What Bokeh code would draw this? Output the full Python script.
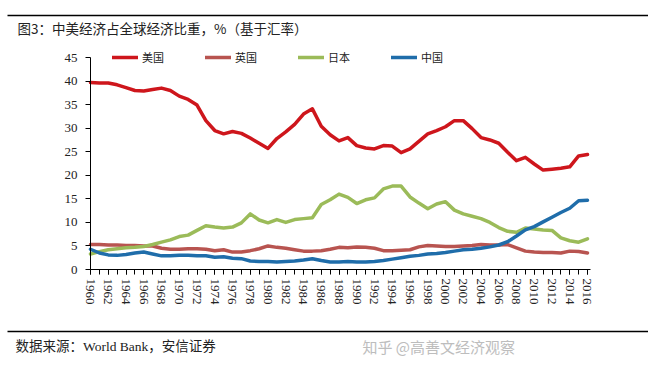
from bokeh.plotting import figure
from bokeh.models import (Label, Span, FixedTicker, Legend, LegendItem,
                          Range1d, ColumnDataSource)
from bokeh.embed import file_html
from bokeh.resources import INLINE

years = list(range(1960, 2017))

us = [39.7, 39.6, 39.6, 39.2, 38.6, 38.0, 37.9, 38.2, 38.5, 38.0,
      36.8, 36.1, 34.9, 31.6, 29.5, 28.8, 29.3, 28.9, 27.9, 26.8,
      25.7, 27.8, 29.2, 30.8, 33.0, 34.1, 30.4, 28.6, 27.3, 28.0,
      26.3, 25.8, 25.6, 26.3, 26.2, 24.8, 25.6, 27.2, 28.8, 29.5,
      30.3, 31.6, 31.6, 29.9, 28.0, 27.5, 26.8, 24.9, 23.1, 23.8,
      22.4, 21.1, 21.3, 21.5, 21.8, 24.1, 24.4]
uk = [5.3, 5.3, 5.2, 5.2, 5.1, 5.1, 5.0, 5.0, 4.5, 4.3,
      4.3, 4.4, 4.4, 4.3, 4.0, 4.2, 3.7, 3.7, 4.0, 4.4,
      5.0, 4.7, 4.5, 4.2, 3.9, 3.9, 4.0, 4.3, 4.7, 4.6,
      4.8, 4.7, 4.5, 4.0, 4.0, 4.1, 4.2, 4.8, 5.1, 5.0,
      4.9, 4.9, 5.0, 5.1, 5.3, 5.2, 5.2, 5.3, 4.6, 3.9,
      3.7, 3.6, 3.6, 3.5, 3.9, 3.8, 3.5]
japan = [3.3, 3.8, 4.2, 4.4, 4.6, 4.7, 4.9, 5.3, 5.8, 6.3,
         7.0, 7.3, 8.3, 9.3, 9.0, 8.8, 9.0, 9.9, 11.8, 10.5,
         9.9, 10.6, 10.0, 10.6, 10.8, 11.0, 13.8, 14.8, 16.0, 15.3,
         14.0, 14.8, 15.2, 17.1, 17.7, 17.7, 15.4, 14.1, 12.9, 13.9,
         14.4, 12.6, 11.8, 11.3, 10.8, 10.0, 8.9, 8.1, 7.9, 8.8,
         8.6, 8.4, 8.3, 6.7, 6.1, 5.8, 6.5]
china = [4.3, 3.5, 3.1, 3.0, 3.2, 3.5, 3.7, 3.3, 2.9, 2.9,
         3.0, 3.0, 2.9, 2.9, 2.6, 2.7, 2.4, 2.3, 1.8, 1.7,
         1.7, 1.6, 1.7, 1.8, 2.0, 2.3, 1.9, 1.6, 1.6, 1.7,
         1.6, 1.6, 1.7, 1.9, 2.2, 2.5, 2.8, 3.0, 3.3, 3.4,
         3.6, 3.9, 4.2, 4.3, 4.5, 4.8, 5.2, 5.9, 7.1, 8.4,
         9.1, 10.1, 11.1, 12.1, 13.0, 14.6, 14.7]

series_names = ["美国", "英国", "日本", "中国"]
series_colors = ["#CE161C", "#B85450", "#9BBB59", "#1F6DAA"]
y_ticks = [0, 5, 10, 15, 20, 25, 30, 35, 40, 45]
x_label_ticks = list(range(1960, 2017, 2))

title_text = "图3：中美经济占全球经济比重，%（基于汇率）"
source_text = "数据来源：World Bank，安信证券"
watermark_text = "知乎 @高善文经济观察"

W, H = 648, 370
cjk = "Noto Sans CJK SC"

# plot box in page pixels: x 1960 -> 90, 2016 -> 587 ; y 0 -> 269, 45 -> 57
px_per_year = (587 - 90) / 56
px_per_unit = (269 - 57) / 45
x0 = 1960 - 90 / px_per_year
x1 = 1960 + (W - 90) / px_per_year
y1 = 269 / px_per_unit
y0 = -(H - 269) / px_per_unit

src = ColumnDataSource(dict(year=years, us=us, uk=uk, japan=japan, china=china))

p = figure(width=W, height=H, output_backend="svg", toolbar_location=None,
           x_range=Range1d(x0, x1), y_range=Range1d(y0, y1), min_border=0)
p.title.visible = False
p.outline_line_color = None
p.xgrid.visible = False
p.ygrid.visible = False
p.background_fill_color = "white"
p.border_fill_color = "white"

renderers = []
for key, c in zip(["us", "uk", "japan", "china"], series_colors):
    r = p.line("year", key, source=src, line_color=c, line_width=3.5,
               line_join="round", line_cap="round")
    renderers.append(r)

serif = "Liberation Serif"
for ax in (p.xaxis[0], p.yaxis[0]):
    ax.axis_line_color = "black"
    ax.axis_line_width = 1
    ax.major_tick_line_color = "black"
    ax.minor_tick_line_color = "black"
    ax.major_tick_in = 0
    ax.major_tick_out = 5
    ax.minor_tick_in = 0
    ax.minor_tick_out = 5
    ax.major_label_text_font = serif
    ax.major_label_text_font_size = "13px"
    ax.major_label_text_color = "#222222"

p.xaxis[0].ticker = FixedTicker(ticks=x_label_ticks, minor_ticks=years)
p.xaxis[0].major_label_orientation = -1.5708
p.xaxis[0].major_label_standoff = 4
p.xaxis[0].fixed_location = 0
p.xaxis[0].bounds = (1960, 2016.3)
p.yaxis[0].ticker = FixedTicker(ticks=y_ticks, minor_ticks=[])
p.yaxis[0].bounds = (0, 45)
p.yaxis[0].major_label_standoff = 8
p.yaxis[0].fixed_location = 1960

legend = Legend(items=[LegendItem(label=n, renderers=[r]) for n, r in zip(series_names, renderers)],
                orientation="horizontal", location=(112, H - 65),
                border_line_alpha=0, background_fill_alpha=0,
                padding=0, margin=0, spacing=41, glyph_width=26, glyph_height=16,
                label_height=16, label_standoff=4,
                label_text_font=cjk, label_text_font_size="11px",
                label_text_color="#222222")
p.add_layout(legend, "center")

# title, source, watermark (screen units: from bottom-left of the canvas-sized frame)
p.add_layout(Label(x=17, y=H - 27, x_units="screen", y_units="screen", text=title_text,
                   text_font=cjk, text_font_size="13.5px", text_color="#222222",
                   text_baseline="middle"))
p.add_layout(Label(x=15, y=H - 346, x_units="screen", y_units="screen", text=source_text,
                   text_font="Liberation Serif, Noto Sans CJK SC", text_font_size="13.5px",
                   text_color="#222222", text_baseline="middle"))
p.add_layout(Label(x=362, y=H - 346, x_units="screen", y_units="screen", text=watermark_text,
                   text_font=cjk, text_font_size="15px", text_color="#bdbdbd",
                   text_baseline="middle"))

# horizontal rules above the title and above the source line
rule_rows = [(269 - py) / px_per_unit for py in (15, 331)]
p.segment(x0=[x0 + 7 / px_per_year] * 2, x1=[x1] * 2, y0=rule_rows, y1=rule_rows,
          line_color="black", line_width=1.3, level="overlay")

open("out.html", "w").write(file_html(p, INLINE))
